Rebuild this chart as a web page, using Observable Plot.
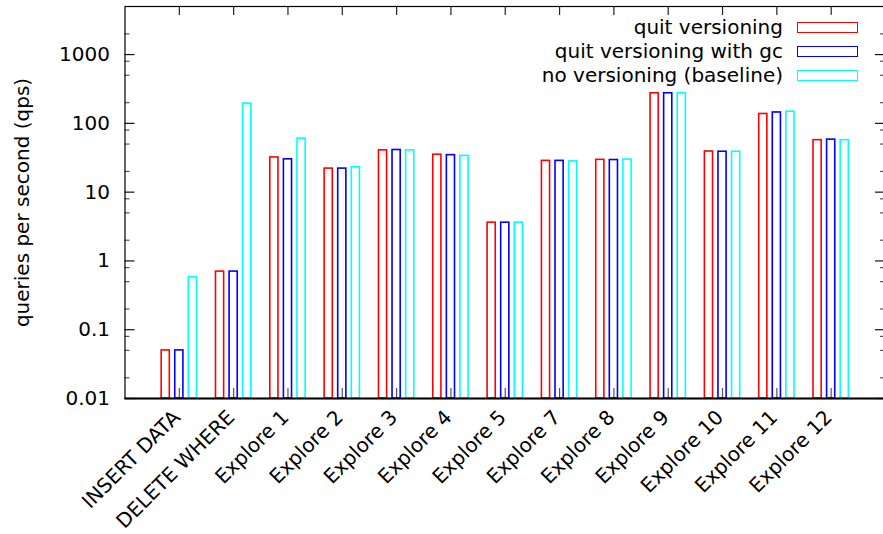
<!DOCTYPE html>
<html><head><meta charset="utf-8">
<script src="https://cdn.jsdelivr.net/npm/d3@7"></script>
<script src="https://cdn.jsdelivr.net/npm/@observablehq/plot@0.6"></script>
<style>
body{margin:0;background:#fff;font-family:"DejaVu Sans",sans-serif;}
#wrap{position:relative;width:883px;height:534px;overflow:hidden;}
.lg-text{position:absolute;right:100px;height:24px;line-height:24px;font-size:20px;color:#000;white-space:nowrap;text-align:right;}
.lg-box{position:absolute;left:797px;width:59px;height:9px;background:#fff;}
</style></head><body><div id="wrap"></div>
<script>
const categories = ["INSERT DATA","DELETE WHERE","Explore 1","Explore 2","Explore 3","Explore 4","Explore 5","Explore 7","Explore 8","Explore 9","Explore 10","Explore 11","Explore 12"];
const seriesNames = ["quit versioning","quit versioning with gc","no versioning (baseline)"];
const seriesColors = ["#ff0000","#0000ff","#00ffff"];
const quitVersioning   = [0.05, 0.70, 32, 22, 40.5, 35, 3.6, 28.5, 29.5, 274, 39, 137, 57];
const quitVersioningGc = [0.05, 0.70, 30, 22, 41, 34.5, 3.6, 28.5, 29.3, 274, 38.7, 144, 58];
const noVersioning     = [0.58, 194, 60, 23, 40.5, 33.7, 3.6, 28, 29.8, 274, 38.7, 148, 57];
const seriesValues = [quitVersioning, quitVersioningGc, noVersioning];
const yTickValues = [0.01, 0.1, 1, 10, 100, 1000];
const yTickLabels = ["0.01", "0.1", "1", "10", "100", "1000"];
const yMinorTicks = [0.02, 0.05, 0.08, 0.2, 0.5, 0.8, 2, 5, 8, 20, 50, 80, 200, 500, 800, 2000];

const W = 883, H = 534, mL = 124.5, mR = -2, mT = 6, mB = 136;
const frameW = W - mL - mR, frameH = H - mT - mB;
const offsets = [-0.25, 0, 0.25];
const halfW = 0.075;
const idx = categories.map((d, i) => i);

const barMarks = seriesValues.map((vals, s) =>
  Plot.rect(vals.map((v, i) => ({i, v})), {
    x1: d => d.i + offsets[s] - halfW,
    x2: d => d.i + offsets[s] + halfW,
    y1: 0.01, y2: d => d.v,
    fill: "none", stroke: seriesColors[s], strokeWidth: 1.6
  })
);

const chart = Plot.plot({
  width: W, height: H,
  marginLeft: mL, marginRight: mR, marginTop: mT, marginBottom: mB,
  style: {fontFamily: "DejaVu Sans", fontSize: "20px", color: "#000", background: "#fff"},
  x: {type: "linear", domain: [-1, 13], axis: null},
  y: {type: "log", domain: [0.01, 5000], axis: null},
  marks: [
    Plot.tickX(idx, {x: d => d, insetTop: frameH - 10, stroke: "#555", strokeWidth: 1.2}),
    Plot.tickX(idx, {x: d => d, insetBottom: frameH - 9, stroke: "#222", strokeWidth: 1.2}),
    Plot.tickY(yTickValues, {y: d => d, insetRight: frameW - 10, stroke: "#111", strokeWidth: 1.2}),
    Plot.tickY(yMinorTicks, {y: d => d, insetRight: frameW - 5, stroke: "#555", strokeWidth: 1.2}),
    Plot.tickY(yTickValues, {y: d => d, insetLeft: frameW - 10, stroke: "#111", strokeWidth: 1.2}),
    Plot.tickY(yMinorTicks, {y: d => d, insetLeft: frameW - 5, stroke: "#555", strokeWidth: 1.2}),
    ...barMarks,
    Plot.frame({stroke: "#000", strokeWidth: 1.2}),
    Plot.ruleY([0.01], {stroke: "#000", strokeWidth: 2}),
    Plot.axisY(yTickValues, {anchor: "left", tickSize: 0, tickPadding: 15, fontSize: 20,
      tickFormat: d => yTickLabels[yTickValues.indexOf(d)]}),
    Plot.text(categories, {x: (d, i) => i, text: d => d, frameAnchor: "bottom", rotate: -45,
      textAnchor: "end", lineAnchor: "bottom", dx: 2, dy: 20, fontSize: 20, fill: "#000"}),
    Plot.text(["queries per second (qps)"], {text: d => d, frameAnchor: "left", rotate: -90,
      textAnchor: "middle", lineAnchor: "middle", dx: -102, fontSize: 20, fill: "#000"})
  ]
});

const wrap = document.getElementById("wrap");
wrap.appendChild(chart);
const rowCenters = [27.5, 51.5, 75.5];
seriesNames.forEach((name, s) => {
  const t = document.createElement("div");
  t.className = "lg-text";
  t.style.top = (rowCenters[s] - 13) + "px";
  t.textContent = name;
  wrap.appendChild(t);
  const b = document.createElement("div");
  b.className = "lg-box";
  b.style.top = (rowCenters[s] - 6) + "px";
  b.style.border = "1.5px solid " + seriesColors[s];
  wrap.appendChild(b);
});
</script></body></html>
